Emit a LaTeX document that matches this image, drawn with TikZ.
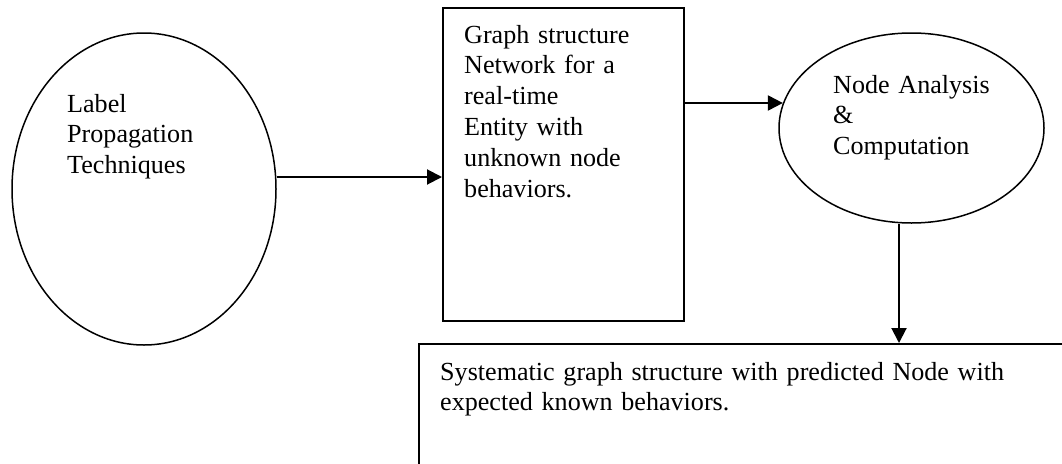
\documentclass[tikz,border=0pt]{standalone}
\usepackage{fontspec}
\setmainfont{Liberation Serif}
\usetikzlibrary{arrows.meta,shapes.geometric}

\tikzset{
  oval/.style={draw, ellipse, line width=1.5pt, inner sep=0pt},
  panel/.style={draw, rectangle, line width=2pt, inner sep=0pt},
  flow/.style={line width=2pt, -{Triangle[length=15pt,width=15pt]}},
  txt/.style={anchor=base west, inner sep=0pt, align=left,
    font=\fontsize{26.1}{30.8}\selectfont}
}

\begin{document}
\begin{tikzpicture}[x=1pt,y=-1pt]
  \useasboundingbox (0,0) rectangle (1062,463);
  \clip (0,0) rectangle (1062,463);

  % shapes
  \node[oval, minimum width=264pt, minimum height=312pt] (lp) at (144,189) {};
  \node[panel, minimum width=241pt, minimum height=313pt] (gs) at (563.5,164.5) {};
  \node[oval, minimum width=265pt, minimum height=190pt] (na) at (911.5,128) {};
  \node[panel, minimum width=681pt, minimum height=156pt] (out) at (759.5,422) {};

  % labels
  \node[txt, text width=190pt] (lpt) at (67,112) {Label\\Propagation\\Techniques};
  \node[txt, text width=210pt] (gst) at (464,43)
    {Graph structure\\Network for a\\real-time\\Entity with\\unknown node\\behaviors.};
  \node[txt, text width=200pt] (nat) at (833,93) {Node Analysis\\\&\\Computation};
  \node[txt, text width=620pt] (outt) at (440,380)
    {Systematic graph structure with predicted Node with\\expected known behaviors.};

  % connectors
  \draw[flow] ([yshift=12pt]lp.east) -- ([yshift=12pt]lp.east -| gs.west);
  \draw[flow] (na.169.4 -| gs.east) -- (na.169.4);
  \draw[flow] ([xshift=-12.5pt]na.south) -- ([xshift=-12.5pt]na.south |- out.north);
\end{tikzpicture}
\end{document}
